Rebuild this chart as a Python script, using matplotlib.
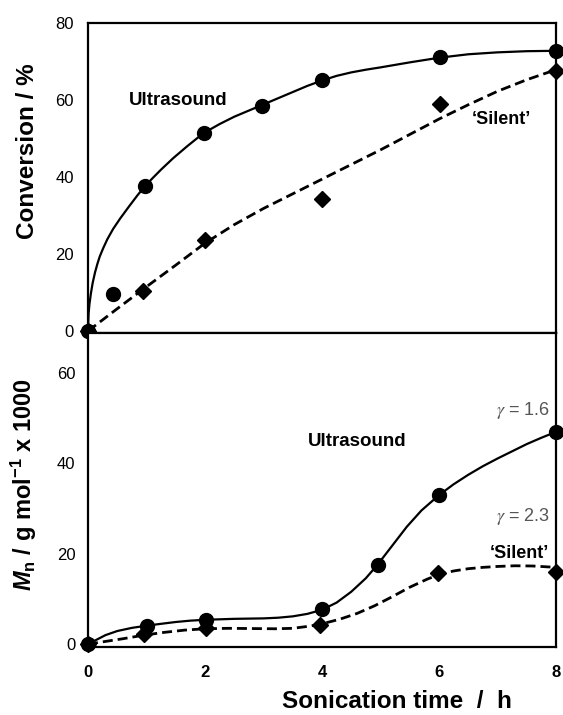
import matplotlib
matplotlib.use("Agg")
import matplotlib.pyplot as plt

plt.rcParams['font.family'] = ['Liberation Sans', 'DejaVu Sans']
plt.rcParams['mathtext.fontset'] = 'custom'
plt.rcParams['mathtext.rm'] = 'Liberation Sans:bold'
plt.rcParams['mathtext.it'] = 'Liberation Sans:italic:bold'
plt.rcParams['mathtext.bf'] = 'Liberation Sans:bold'

# --- Conversion data (top panel) ---
conv_us_t = [0, 0.42, 0.97, 1.98, 2.97, 4.0, 6.02, 8.0]
conv_us   = [0, 9.6, 37.7, 51.5, 58.3, 65.0, 71.0, 72.7]
conv_si_t = [0, 0.94, 2.0, 4.0, 6.02, 8.0]
conv_si   = [0, 10.5, 23.5, 34.3, 59.0, 67.5]

# fitted curves
conv_us_fit_t = [0, 0.01, 0.025, 0.05, 0.08, 0.12, 0.16, 0.2, 0.26, 0.33, 0.43, 0.55,
                 0.7, 0.85, 0.97, 1.1, 1.25, 1.46, 1.7, 1.97, 2.25, 2.5, 2.75, 2.97,
                 3.25, 3.5, 3.75, 4.0, 4.25, 4.5, 4.75, 5.0, 5.5, 6.0, 6.5, 7.0, 7.5, 8.0]
conv_us_fit   = [0, 4.5, 7.0, 9.8, 12.5, 15.2, 17.4, 19.3, 21.5, 23.8, 26.5, 29.2,
                 32.3, 35.3, 37.5, 39.6, 41.9, 44.9, 48.0, 51.3, 53.7, 55.6, 57.2, 58.6,
                 60.4, 62.0, 63.6, 65.0, 66.2, 67.1, 67.8, 68.4, 69.7, 70.9, 71.8, 72.3, 72.6, 72.7]
conv_si_fit_t = [0, 0.5, 1.0, 1.5, 2.0, 2.5, 3.0, 3.5, 4.0, 4.5, 5.0, 5.5, 6.0, 6.5,
                 7.0, 7.5, 8.0]
conv_si_fit   = [0, 5.8, 11.5, 17.1, 22.8, 27.6, 31.8, 35.6, 39.4, 43.2, 47.0, 51.0,
                 55.0, 58.7, 62.2, 65.2, 67.8]

# --- Mn data (bottom panel) ---
mn_us_t = [0, 1.01, 2.02, 4.0, 4.95, 6.0, 8.0]
mn_us   = [0, 4.0, 5.3, 7.7, 17.6, 33.0, 47.0]
mn_si_t = [0, 0.96, 2.02, 3.97, 5.98, 8.0]
mn_si   = [0, 2.2, 3.5, 4.2, 15.8, 16.0]

mn_us_fit_t = [0, 0.15, 0.3, 0.5, 0.75, 1.01, 1.25, 1.5, 1.75, 2.02, 2.5, 3.0, 3.25,
               3.5, 3.75, 4.0, 4.25, 4.5, 4.75, 4.95, 5.2, 5.45, 5.7, 6.0, 6.25, 6.5,
               6.75, 7.0, 7.25, 7.5, 7.75, 8.0]
mn_us_fit   = [0, 1.0, 2.0, 2.9, 3.6, 4.1, 4.5, 4.9, 5.2, 5.4, 5.6, 5.7, 5.85,
               6.15, 6.7, 7.6, 9.2, 11.6, 14.6, 17.6, 21.8, 26.0, 29.6, 33.0, 35.4, 37.5,
               39.4, 41.1, 42.7, 44.3, 45.7, 47.0]
mn_si_fit_t = [0, 0.3, 0.6, 0.96, 1.3, 1.65, 2.0, 2.4, 2.8, 3.2, 3.5, 3.8, 4.0, 4.3,
               4.6, 4.9, 5.2, 5.5, 5.8, 6.0, 6.25, 6.5, 6.75, 7.0, 7.3, 7.6, 8.0]
mn_si_fit   = [0, 0.6, 1.2, 2.0, 2.6, 3.1, 3.4, 3.5, 3.45, 3.4, 3.5, 4.0, 4.5, 5.5,
               6.8, 8.5, 10.5, 12.6, 14.4, 15.4, 16.2, 16.7, 17.0, 17.2, 17.35, 17.3, 17.0]

fig = plt.figure(figsize=(5.63, 7.15), dpi=100)
ax1 = fig.add_axes([0.1563, 0.5343, 0.8313, 0.4340])
ax2 = fig.add_axes([0.1563, 0.0947, 0.8313, 0.4396])

dash = (3.6, 1.8)
for ax in (ax1, ax2):
    for sp in ax.spines.values():
        sp.set_linewidth(1.6)
    ax.set_xlim(0, 8)
    ax.tick_params(length=0)

# top panel
ax1.plot(conv_us_fit_t, conv_us_fit, color='black', lw=1.6)
ax1.plot(conv_si_fit_t, conv_si_fit, color='black', lw=2.0, dashes=dash)
ax1.plot(conv_us_t, conv_us, 'o', color='black', ms=10, clip_on=False, zorder=5)
ax1.plot(conv_si_t, conv_si, 'D', color='black', ms=7.8, clip_on=False, zorder=5)
ax1.set_ylim(-0.5, 80)
ax1.set_yticks([0, 20, 40, 60, 80])
ax1.set_xticks([])
ax1.tick_params(axis='y', pad=10, labelsize=12)
ax1.text(1.55, 59.8, 'Ultrasound', ha='center', va='center', fontsize=13.5, fontweight='bold')
ax1.text(7.06, 55.0, '\u2018Silent\u2019', ha='center', va='center', fontsize=13, fontweight='bold')

# bottom panel
ax2.plot(mn_us_fit_t, mn_us_fit, color='black', lw=1.6)
ax2.plot(mn_si_fit_t, mn_si_fit, color='black', lw=2.0, dashes=dash)
ax2.plot(mn_us_t, mn_us, 'o', color='black', ms=10, clip_on=False, zorder=5)
ax2.plot(mn_si_t, mn_si, 'D', color='black', ms=7.8, clip_on=False, zorder=5)
ax2.set_ylim(-0.7, 68.9)
ax2.set_yticks([0, 20, 40, 60])
ax2.set_xticks([0, 2, 4, 6, 8])
ax2.tick_params(axis='y', pad=9, labelsize=12)
ax2.tick_params(axis='x', pad=13, labelsize=12)
for lab in ax2.get_xticklabels():
    lab.set_fontweight('bold')
ax2.text(4.6, 44.8, 'Ultrasound', ha='center', va='center', fontsize=13.5, fontweight='bold')
ax2.text(7.9, 51.8, r'$\gamma$ = 1.6', ha='right', va='center', fontsize=13,
         color='#555555', math_fontfamily='stix')
ax2.text(7.9, 28.2, r'$\gamma$ = 2.3', ha='right', va='center', fontsize=13,
         color='#555555', math_fontfamily='stix')
ax2.text(7.38, 20.1, '\u2018Silent\u2019', ha='center', va='center', fontsize=13, fontweight='bold')

# axis titles
fig.text(0.048, 0.789, 'Conversion / %', rotation=90, ha='center', va='center',
         fontsize=17.5, fontweight='bold')
fig.text(0.0426, 0.3217, r'$\mathit{M}_{\mathrm{n}}$ / g mol$^{\mathrm{-1}}$ x 1000', rotation=90,
         ha='center', va='center', fontsize=17, fontweight='bold')
fig.text(0.705, 0.003, 'Sonication time  /  h', ha='center', va='bottom',
         fontsize=17.5, fontweight='bold')

fig.savefig('out.png', dpi=100)
